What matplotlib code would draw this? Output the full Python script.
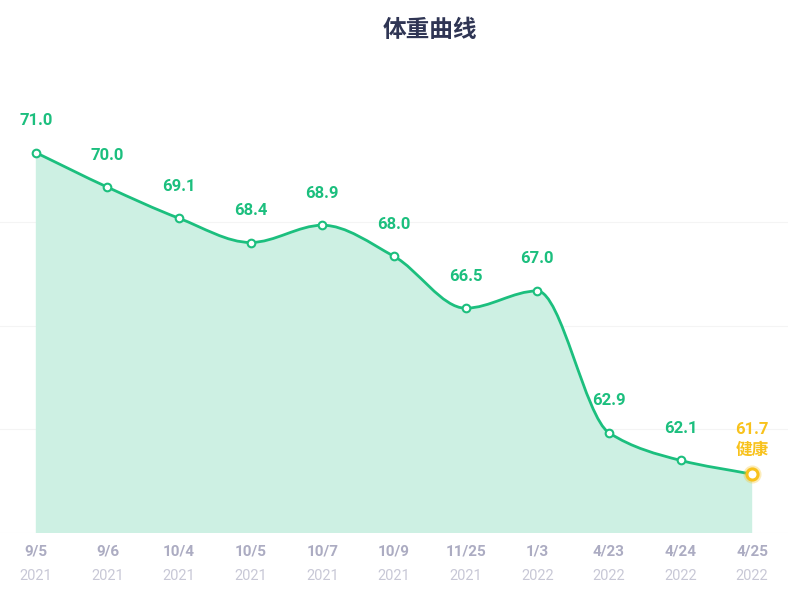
import numpy as np
import matplotlib
matplotlib.use("Agg")
import matplotlib.pyplot as plt
from matplotlib.path import Path
from matplotlib.patches import PathPatch

plt.rcParams['font.family'] = ['Roboto', 'Noto Sans CJK SC', 'DejaVu Sans']

# data
dates = ['9/5', '9/6', '10/4', '10/5', '10/7', '10/9', '11/25', '1/3', '4/23', '4/24', '4/25']
years = ['2021', '2021', '2021', '2021', '2021', '2021', '2021', '2022', '2022', '2022', '2022']
weights = [71.0, 70.0, 69.1, 68.4, 68.9, 68.0, 66.5, 67.0, 62.9, 62.1, 61.7]
last_note = '健康'

GREEN = '#1cbf7e'
FILL = '#cdf0e3'
YELLOW = '#f8c21c'
Y_MIN, Y_MAX = 60, 72

fig = plt.figure(figsize=(7.88, 5.91), dpi=100)
ax = fig.add_axes([0, 58 / 591, 1, 415 / 591])
ax.set_xlim(-0.5, len(weights) - 0.5)
ax.set_ylim(Y_MIN, Y_MAX)
ax.axis('off')

x = np.arange(len(weights))
y = np.array(weights)

# monotone tangents for a smooth bezier path
d = np.diff(y)
m = np.zeros_like(y)
m[0], m[-1] = d[0], d[-1]
for k in range(1, len(y) - 1):
    if d[k - 1] * d[k] > 0:
        m[k] = 2 / (1 / d[k - 1] + 1 / d[k])

verts = [(x[0], y[0])]
codes = [Path.MOVETO]
for k in range(len(y) - 1):
    verts += [(x[k] + 1 / 3, y[k] + m[k] / 3),
              (x[k + 1] - 1 / 3, y[k + 1] - m[k + 1] / 3),
              (x[k + 1], y[k + 1])]
    codes += [Path.CURVE4] * 3

fill_verts = verts + [(x[-1], Y_MIN), (x[0], Y_MIN), (x[0], y[0])]
fill_codes = codes + [Path.LINETO, Path.LINETO, Path.CLOSEPOLY]

# faint gridlines
for g in range(Y_MIN, Y_MAX, 3):
    ax.axhline(g, color='#f4f4f4', lw=0.8, zorder=0)

ax.add_patch(PathPatch(Path(fill_verts, fill_codes), facecolor=FILL, edgecolor='none', zorder=1))
ax.add_patch(PathPatch(Path(verts, codes), facecolor='none', edgecolor=GREEN, lw=2.0, zorder=2))

ax.plot(x[:-1], y[:-1], 'o', ms=5.5, mfc='white', mec=GREEN, mew=1.5, zorder=3)
ax.plot(x[-1], y[-1], 'o', ms=13, color=YELLOW, alpha=0.3, mec='none', zorder=3)
ax.plot(x[-1], y[-1], 'o', ms=8, mfc='white', mec=YELLOW, mew=2.2, zorder=4)

for k, v in enumerate(weights):
    if k == len(weights) - 1:
        ax.annotate(f'{v:.1f}', (x[k], v), xytext=(0, 32), textcoords='offset points',
                    ha='center', va='center', fontsize=12, fontweight='bold', color=YELLOW)
        ax.annotate(last_note, (x[k], v), xytext=(0, 17), textcoords='offset points',
                    ha='center', va='center', fontsize=12, fontweight='bold', color=YELLOW)
    else:
        ax.annotate(f'{v:.1f}', (x[k], v), xytext=(0, 23), textcoords='offset points',
                    ha='center', va='center', fontsize=12, fontweight='bold', color=GREEN)

for k in range(len(dates)):
    ax.annotate(dates[k], (x[k], 0), xycoords=('data', 'axes fraction'), xytext=(0, -13),
                textcoords='offset points', ha='center', va='center', fontsize=11,
                fontweight='bold', color='#acacc2')
    ax.annotate(years[k], (x[k], 0), xycoords=('data', 'axes fraction'), xytext=(0, -31),
                textcoords='offset points', ha='center', va='center', fontsize=10.5,
                color='#c8c8d6')

fig.text(430 / 788, 1 - 30 / 591, '体重曲线', ha='center', va='center', fontsize=17,
         fontweight='bold', color='#2f3554', family=['Noto Sans CJK SC', 'DejaVu Sans'])

fig.savefig('out.png', dpi=100)
